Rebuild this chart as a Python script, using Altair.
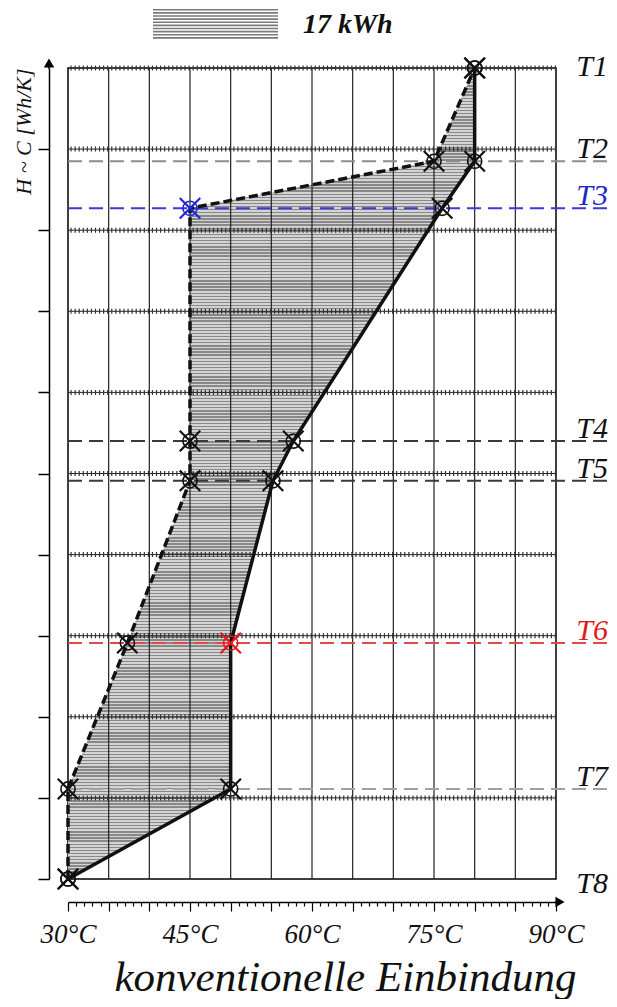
import altair as alt
import pandas as pd

# ---------------- data ----------------
levels = ["T1", "T2", "T3", "T4", "T5", "T6", "T7", "T8"]
level_h = [10.0, 8.85, 8.27, 5.40, 4.91, 2.91, 1.11, 0.0]          # H ~ C position (grid units)
solid_temp = [80.0, 80.0, 76.0, 57.7, 55.2, 50.0, 50.0, 30.0]       # solid curve (°C)
dashed_temp = [80.0, 75.0, 45.0, 45.0, 45.0, 37.3, 30.0, 30.0]      # dashed curve (°C)

label_colors = ["#111111", "#111111", "#2222c8", "#111111", "#111111", "#e01a1a", "#111111", "#111111"]
solid_marker_colors = ["#111111", "#111111", "#111111", "#111111", "#111111", "#e01a1a", "#111111", "#111111"]
dashed_marker_colors = ["#111111", "#111111", "#2222e0", "#111111", "#111111", "#111111", "#111111", "#111111"]

ref_levels = ["T2", "T3", "T4", "T5", "T6", "T7"]
ref_h = [8.85, 8.27, 5.40, 4.91, 2.91, 1.11]
ref_colors = ["#8c8c8c", "#3a3ad6", "#3a3a3a", "#3a3a3a", "#e24848", "#a0a0a0"]

x_tick_values = list(range(30, 91))
v_grid_values = [35, 40, 45, 50, 55, 60, 65, 70, 75, 80, 85]
h_grid_values = [1, 2, 3, 4, 5, 6, 7, 8, 9]
h_dot_values = [1, 2, 3, 4, 5, 6, 7, 8, 9, 10]
y_tick_values = [0, 1, 2, 3, 4, 5, 6, 7, 8, 9]
legend_text = "17 kWh"

FONT = "Liberation Serif"

# ---------------- tables ----------------
curves = pd.DataFrame({"lvl": levels, "h": level_h, "solid": solid_temp,
                       "dashed": dashed_temp, "lab": [legend_text] * len(levels)})
markers = pd.DataFrame({
    "t": solid_temp + dashed_temp,
    "h": level_h + level_h,
    "c": solid_marker_colors + dashed_marker_colors,
})
refs = pd.DataFrame({"lvl": ref_levels, "h": ref_h, "c": ref_colors})
labels = pd.DataFrame({"lvl": levels, "h": level_h, "c": label_colors})
one = pd.DataFrame({"a": [0]})

xs = alt.Scale(domain=[30, 90], nice=False, zero=False)
ys = alt.Scale(domain=[0, 10], nice=False, zero=False)

# striped (hatched) fill as a hard-stop vertical gradient
n_stripes = 262
p = 1.0 / n_stripes
LIGHT, DARK = "#d4d4d4", "#888888"
stops = []
for i in range(n_stripes):
    a = i * p
    b = min(a + 0.55 * p, 1.0)
    c = min(a + p, 1.0)
    stops += [alt.GradientStop(color=LIGHT, offset=a), alt.GradientStop(color=LIGHT, offset=b),
              alt.GradientStop(color=DARK, offset=b), alt.GradientStop(color=DARK, offset=c)]
hatch = alt.LinearGradient(gradient="linear", stops=stops, x1=0, x2=0, y1=0, y2=1)

# legend swatch: striped rectangle symbol
stripe_path = " ".join(
    f"M-2,{-0.5 + k * 0.1:.3f}H2V{-0.5 + k * 0.1 + 0.055:.3f}H-2Z" for k in range(10)
)

X_AXIS = dict(
    values=x_tick_values, offset=23, grid=False,
    domainColor="black", domainWidth=1.5,
    tickColor="black", tickWidth=1.2, tickSize=9,
    tickDash={"condition": {"test": "datum.value % 5 !== 0", "value": [4, 30]}, "value": [30, 1]},
    labelExpr="datum.value % 15 === 0 ? datum.value + '°C' : ''",
    labelFont=FONT, labelFontStyle="italic", labelFontSize=27, labelColor="#111111",
    labelPadding=10, labelOverlap=False, labelFlush=False, labelBound=False,
    title="konventionelle Einbindung", titleFont=FONT, titleFontStyle="italic",
    titleFontSize=43, titleFontWeight="normal", titleColor="#111111",
    titlePadding=9, titleX=277,
)
Y_AXIS = dict(
    values=y_tick_values, offset=19, grid=False, labels=False,
    tickSize=11, tickColor="black", tickWidth=1.5,
    domainColor="black", domainWidth=1.5,
    title="H ~ C [Wh/K]", titleFont=FONT, titleFontStyle="italic", titleFontSize=22,
    titleFontWeight="normal", titleColor="#111111", titleAnchor="end", titlePadding=2,
)


def X(field=None, datum=None):
    if datum is not None:
        return alt.X(datum=datum, scale=xs, axis=alt.Axis(**X_AXIS))
    return alt.X(field, type="quantitative", scale=xs, axis=alt.Axis(**X_AXIS))


def Y(field):
    return alt.Y(field, type="quantitative", scale=ys, axis=alt.Axis(**Y_AXIS))


legend = alt.Legend(
    orient="none", legendX=116, legendY=-75, title=None, padding=0,
    symbolType=stripe_path, symbolSize=3906, symbolStrokeWidth=0,
    labelOffset=56, labelFont=FONT, labelFontSize=28, labelFontWeight="bold",
    labelFontStyle="italic", labelColor="#111111", labelLimit=0,
)

area_base = alt.Chart(curves).mark_area(orient="horizontal").encode(
    y=Y("h"), x=X("dashed"), x2="solid:Q",
    fill=alt.Fill("lab:N", scale=alt.Scale(domain=[legend_text], range=["#7a7a7a"]), legend=legend),
)
area_hatch = alt.Chart(curves).mark_area(orient="horizontal", fill=hatch).encode(
    y=Y("h"), x=X("dashed"), x2="solid:Q",
)

vgrid = alt.Chart(pd.DataFrame({"t": v_grid_values})).mark_rule(color="#222222", strokeWidth=1.2).encode(
    x=X("t")
)
hgrid = alt.Chart(pd.DataFrame({"h": h_grid_values})).mark_rule(color="#222222", strokeWidth=1).encode(
    y=Y("h")
)
hdots = alt.Chart(pd.DataFrame({"h": h_dot_values})).mark_rule(
    color="#333333", strokeWidth=5, strokeDash=[1.2, 2.87]
).encode(y=Y("h"))

ref_lines = alt.Chart(refs).mark_rule(strokeWidth=2, strokeDash=[14, 7]).encode(
    y=Y("h"), x=X(datum=30), x2=alt.X2(datum=96.9),
    color=alt.Color("c:N", scale=None),
)

dashed_line = alt.Chart(curves).mark_line(color="#111111", strokeWidth=3.5, strokeDash=[9, 4]).encode(
    x=X("dashed"), y=Y("h"), order="h:Q"
)
solid_line = alt.Chart(curves).mark_line(color="#111111", strokeWidth=3.5).encode(
    x=X("solid"), y=Y("h"), order="h:Q"
)

circles = alt.Chart(markers).mark_point(shape="circle", filled=False, size=200, strokeWidth=1.6, opacity=1).encode(
    x=X("t"), y=Y("h"), stroke=alt.Stroke("c:N", scale=None),
)
crosses = alt.Chart(markers).mark_point(
    shape="M-1,-1L1,1M-1,1L1,-1", filled=False, size=420, strokeWidth=2.2, opacity=1
).encode(
    x=X("t"), y=Y("h"), stroke=alt.Stroke("c:N", scale=None),
)


def level_text(names, dy):
    d = labels[labels["lvl"].isin(names)]
    return alt.Chart(d).mark_text(
        font=FONT, fontStyle="italic", fontSize=30, align="left", baseline="alphabetic", dy=dy
    ).encode(
        x=X(datum=92.5), y=Y("h"),
        text="lvl:N", color=alt.Color("c:N", scale=None),
    )


lab_top = level_text(["T1"], 8)
lab_mid = level_text(["T2", "T3", "T4", "T5", "T6", "T7"], -3)
lab_bot = level_text(["T8"], 14)

# axis arrow heads
x_arrow = alt.Chart(one).mark_point(shape="triangle-right", filled=True, size=110, color="black", opacity=1).encode(
    x=alt.value(492), y=alt.value(834)
)
x_arrow_line = alt.Chart(one).mark_rule(color="black", strokeWidth=1.5).encode(
    x=alt.value(487), x2=alt.value(490), y=alt.value(834)
)
y_arrow = alt.Chart(one).mark_point(shape="triangle-up", filled=True, size=110, color="black", opacity=1).encode(
    x=alt.value(-19), y=alt.value(-5)
)
y_arrow_line = alt.Chart(one).mark_rule(color="black", strokeWidth=1.5).encode(
    x=alt.value(-19), y=alt.value(1), y2=alt.value(-3)
)

chart = alt.layer(
    area_base, area_hatch, vgrid, hgrid, hdots, ref_lines, dashed_line, solid_line,
    circles, crosses, lab_top, lab_mid, lab_bot, x_arrow_line, x_arrow, y_arrow_line, y_arrow,
).properties(
    width=488, height=811,
    padding={"left": 60, "top": 60, "right": 53, "bottom": 120},
    autosize=alt.AutoSizeParams(type="none"),
    background="white",
).configure(
    font=FONT
).configure_axis(
    labelFont=FONT, titleFont=FONT, labelFontStyle="italic", titleFontStyle="italic",
    titleFontWeight="normal",
).configure_legend(
    labelFont=FONT
).configure_text(
    font=FONT
).configure_view(stroke="black", strokeWidth=1.5)

chart.save("out.html", embed_options={"renderer": "svg", "actions": False})
